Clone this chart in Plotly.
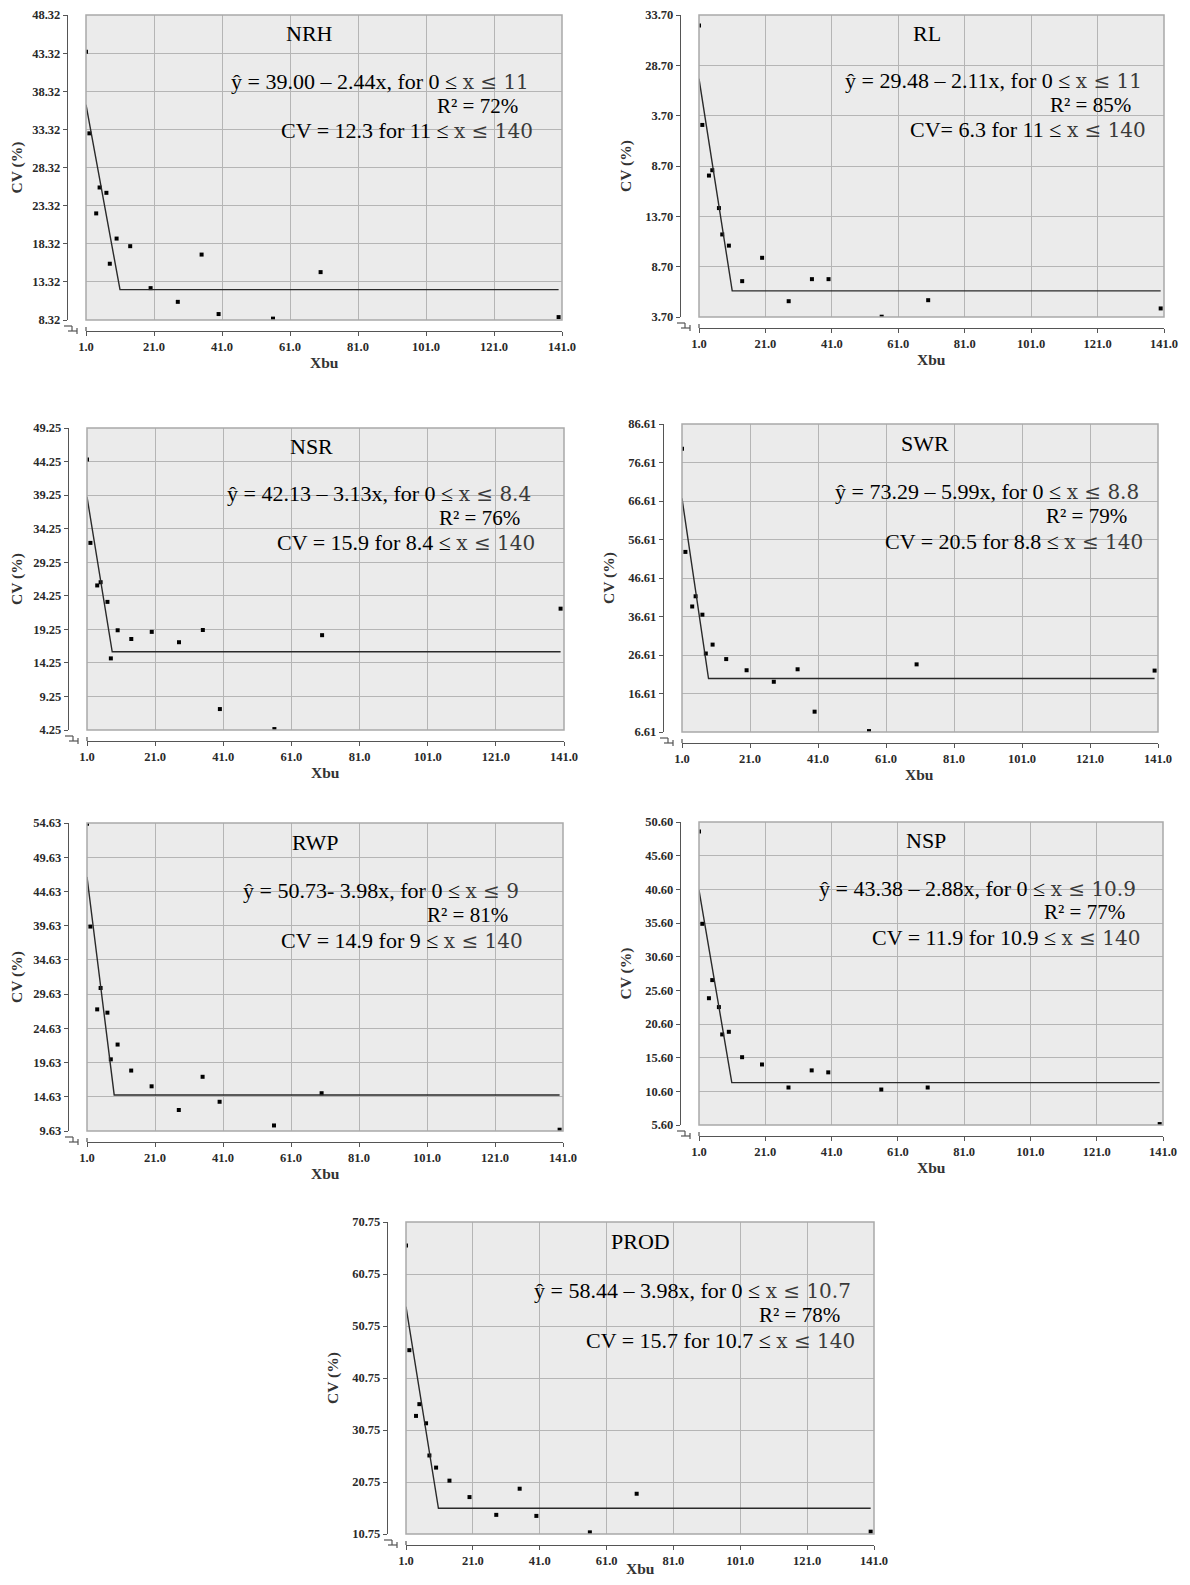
import plotly.graph_objects as go

# ---------------- data ----------------
x_bu = [1, 2, 4, 5, 7, 8, 10, 14, 20, 28, 35, 40, 56, 70, 140]

traits = ["NRH", "RL", "NSR", "SWR", "RWP", "NSP", "PROD"]

cv_nrh = [43.5, 32.8, 22.3, 25.7, 25.0, 15.7, 19.0, 18.0, 12.5, 10.7, 16.9, 9.1, 8.5, 14.6, 8.7]
cv_rl = [32.65, 22.78, 17.75, 18.28, 14.52, 11.90, 10.79, 7.26, 9.58, 5.27, 7.46, 7.46, 3.73, 5.37, 4.55]
cv_nsr = [44.54, 32.13, 25.79, 26.27, 23.34, 14.92, 19.11, 17.81, 18.87, 17.33, 19.15, 7.37, 4.39, 18.38, 22.33]
cv_swr = [80.21, 53.39, 39.21, 41.86, 37.08, 27.00, 29.31, 25.55, 22.65, 19.66, 22.90, 11.89, 6.85, 24.18, 22.56]
cv_rwp = [54.53, 39.50, 27.40, 30.52, 26.92, 20.10, 22.26, 18.46, 16.16, 12.70, 17.55, 13.90, 10.44, 15.15, 9.82]
cv_nsp = [49.18, 35.48, 24.43, 27.12, 23.11, 19.05, 19.44, 15.67, 14.59, 11.17, 13.71, 13.42, 10.87, 11.17, 5.74]
cv_prod = [66.23, 46.10, 33.46, 35.72, 32.04, 25.85, 23.52, 21.01, 17.85, 14.43, 19.46, 14.23, 11.07, 18.49, 11.20]
cv_series = [cv_nrh, cv_rl, cv_nsr, cv_swr, cv_rwp, cv_nsp, cv_prod]

# segmented regression parameters
intercepts = [39.00, 29.48, 42.13, 73.29, 50.73, 43.38, 58.44]
slopes = [2.44, 2.11, 3.13, 5.99, 3.98, 2.88, 3.98]
breakpoints = [11, 11, 8.4, 8.8, 9, 10.9, 10.7]
plateaus = [12.3, 6.3, 15.9, 20.5, 14.9, 11.9, 15.7]
x_end = 140

eq_heads = [
    "ŷ = 39.00 – 2.44x, for 0 ≤ ",
    "ŷ = 29.48 – 2.11x, for 0 ≤ ",
    "ŷ = 42.13 – 3.13x, for 0 ≤ ",
    "ŷ = 73.29 – 5.99x, for 0 ≤ ",
    "ŷ = 50.73- 3.98x, for 0 ≤ ",
    "ŷ = 43.38 – 2.88x, for 0 ≤ ",
    "ŷ = 58.44 – 3.98x, for 0 ≤ ",
]
eq_tails = ["x ≤ 11", "x ≤ 11", "x ≤ 8.4", "x ≤ 8.8", "x ≤ 9", "x ≤ 10.9", "x ≤ 10.7"]
r2_lines = ["R² = 72%", "R² = 85%", "R² = 76%", "R² = 79%", "R² = 81%", "R² = 77%", "R² = 78%"]
cv_heads = [
    "CV = 12.3 for 11 ≤ ",
    "CV= 6.3 for 11 ≤ ",
    "CV = 15.9 for 8.4 ≤ ",
    "CV = 20.5 for 8.8 ≤ ",
    "CV = 14.9 for 9 ≤ ",
    "CV = 11.9 for 10.9 ≤ ",
    "CV = 15.7 for 10.7 ≤ ",
]
cv_tail = "x ≤ 140"

x_title = "Xbu"
y_title = "CV (%)"

x_tickvals = [1, 21, 41, 61, 81, 101, 121, 141]
x_ticktext = ["1.0", "21.0", "41.0", "61.0", "81.0", "101.0", "121.0", "141.0"]

y_tickvals = [
    [8.32, 13.32, 18.32, 23.32, 28.32, 33.32, 38.32, 43.32, 48.32],
    [3.70, 8.70, 13.70, 18.70, 23.70, 28.70, 33.70],
    [4.25, 9.25, 14.25, 19.25, 24.25, 29.25, 34.25, 39.25, 44.25, 49.25],
    [6.61, 16.61, 26.61, 36.61, 46.61, 56.61, 66.61, 76.61, 86.61],
    [9.63, 14.63, 19.63, 24.63, 29.63, 34.63, 39.63, 44.63, 49.63, 54.63],
    [5.60, 10.60, 15.60, 20.60, 25.60, 30.60, 35.60, 40.60, 45.60, 50.60],
    [10.75, 20.75, 30.75, 40.75, 50.75, 60.75, 70.75],
]
y_ticktext = [
    ["8.32", "13.32", "18.32", "23.32", "28.32", "33.32", "38.32", "43.32", "48.32"],
    ["3.70", "8.70", "13.70", "8.70", "3.70", "28.70", "33.70"],
    ["4.25", "9.25", "14.25", "19.25", "24.25", "29.25", "34.25", "39.25", "44.25", "49.25"],
    ["6.61", "16.61", "26.61", "36.61", "46.61", "56.61", "66.61", "76.61", "86.61"],
    ["9.63", "14.63", "19.63", "24.63", "29.63", "34.63", "39.63", "44.63", "49.63", "54.63"],
    ["5.60", "10.60", "15.60", "20.60", "25.60", "30.60", "35.60", "40.60", "45.60", "50.60"],
    ["10.75", "20.75", "30.75", "40.75", "50.75", "60.75", "70.75"],
]

# ---------------- layout (window pixels) ----------------
PAGE_OFF = 8                      # default body margin of the html page
WIN_W, WIN_H = 1190, 1585
W, H = WIN_W - 2 * PAGE_OFF, WIN_H - 2 * PAGE_OFF
# plot-area boxes in window pixels: left, right, top, bottom
boxes = [
    (86, 562, 15, 320),
    (699, 1164, 15, 317),
    (87, 564, 428, 730),
    (682, 1158, 424, 732),
    (87, 563, 823, 1131),
    (699, 1163, 822, 1125),
    (406, 874, 1222, 1534),
]
title_x = [0.47, 0.49, 0.47, 0.51, 0.48, 0.49, 0.50]
eq_right = [0.935, 0.957, 0.935, 0.964, 0.912, 0.946, 0.955]

FONT = "Liberation Serif"
TAILFONT = "DejaVu Serif"
AX_DARK = "#555555"
GRID = "#b5b5b5"

fig = go.Figure()
layout = dict(
    width=W, height=H, margin=dict(l=0, r=0, t=0, b=0, autoexpand=False),
    paper_bgcolor="white", plot_bgcolor="#ebebeb", showlegend=False,
)
shapes = []
annotations = []


def px(x):
    return (x - PAGE_OFF) / W


def py(y):
    return 1 - (y - PAGE_OFF) / H


def tail(s):
    return "<span style=\"font-family:'%s';font-size:20px;color:#3a3a3a\">%s</span>" % (TAILFONT, s)


axis_font = dict(family=FONT, size=12.5, color="#2a2a2a", weight="bold")
title_font = dict(family=FONT, size=15.5, color="#333333", weight="bold")

for i in range(7):
    n = "" if i == 0 else str(i + 1)
    xa, ya = "x" + n, "y" + n
    L, R, T, B = boxes[i]
    ylo, yhi = y_tickvals[i][0], y_tickvals[i][-1]

    fig.add_trace(go.Scatter(
        x=x_bu, y=cv_series[i], mode="markers", xaxis=xa, yaxis=ya,
        marker=dict(symbol="square", size=4, color="black"),
    ))
    a, b, bp, pl = intercepts[i], slopes[i], breakpoints[i], plateaus[i]
    line_x = [x_bu[0], bp, x_end]
    line_y = [a - b * x_bu[0], pl, pl]
    fig.add_trace(go.Scatter(
        x=line_x, y=line_y, mode="lines", xaxis=xa, yaxis=ya,
        line=dict(color="#2a2a2a", width=1.4),
    ))

    layout["xaxis" + n] = dict(
        domain=[px(L), px(R)], anchor="free", position=py(B + 11), automargin=False,
        range=[1, 141], tickvals=x_tickvals, ticktext=x_ticktext,
        showgrid=True, gridcolor=GRID, gridwidth=1, zeroline=False,
        showline=True, linecolor=AX_DARK, linewidth=1.3,
        ticks="outside", ticklen=4, tickcolor=AX_DARK, tickwidth=1.2,
        tickfont=axis_font, ticklabeloverflow="allow",
    )
    layout["yaxis" + n] = dict(
        domain=[py(B), py(T)], anchor="free", position=px(L - 19), automargin=False,
        range=[ylo, yhi], tickvals=y_tickvals[i], ticktext=y_ticktext[i],
        showgrid=True, gridcolor=GRID, gridwidth=1, zeroline=False,
        showline=True, linecolor=AX_DARK, linewidth=1.3,
        ticks="outside", ticklen=4, tickcolor=AX_DARK, tickwidth=1.2,
        tickfont=axis_font, ticklabeloverflow="allow",
        title=dict(text=y_title, font=title_font, standoff=8),
    )

    # x-axis title as text under the tick labels
    ty = min(B + 11 + 31, WIN_H - PAGE_OFF - 9)
    annotations.append(dict(text=x_title, xref="paper", yref="paper",
                            x=(px(L) + px(R)) / 2, y=py(ty), xanchor="center", yanchor="middle",
                            showarrow=False, font=title_font))

    # plot-area border
    shapes.append(dict(type="rect", xref=xa + " domain", yref=ya + " domain",
                       x0=0, x1=1, y0=0, y1=1, line=dict(color="#a9a9a9", width=1.5),
                       fillcolor="rgba(0,0,0,0)", layer="above"))
    # axis-break symbol
    yl = L - 19
    segs = [
        ((yl - 3, B + 6), (yl + 5, B + 6)),
        ((yl + 5, B + 6), (yl + 5, B + 11)),
        ((yl + 1, B + 11), (yl + 10, B + 11)),
        ((yl + 10, B + 8), (yl + 10, B + 14)),
        ((L, B + 7), (L, B + 11)),
    ]
    for (x0, y0), (x1, y1) in segs:
        shapes.append(dict(type="line", xref="paper", yref="paper",
                           x0=px(x0), y0=py(y0), x1=px(x1), y1=py(y1),
                           line=dict(color=AX_DARK, width=1.2)))

    # texts
    annotations.append(dict(text=traits[i], xref=xa + " domain", yref=ya + " domain",
                            x=title_x[i], y=1 - 0.062, xanchor="center", yanchor="middle",
                            showarrow=False, font=dict(family=FONT, size=22, color="black")))
    annotations.append(dict(text=eq_heads[i] + tail(eq_tails[i]), xref=xa + " domain", yref=ya + " domain",
                            x=eq_right[i], y=1 - 0.218, xanchor="right", yanchor="middle",
                            showarrow=False, font=dict(family=FONT, size=22, color="black")))
    annotations.append(dict(text=r2_lines[i], xref=xa + " domain", yref=ya + " domain",
                            x=eq_right[i] - 0.024, y=1 - 0.298, xanchor="right", yanchor="middle",
                            showarrow=False, font=dict(family=FONT, size=21, color="black")))
    annotations.append(dict(text=cv_heads[i] + tail(cv_tail), xref=xa + " domain", yref=ya + " domain",
                            x=eq_right[i] + 0.008, y=1 - 0.38, xanchor="right", yanchor="middle",
                            showarrow=False, font=dict(family=FONT, size=22, color="black")))

layout["shapes"] = shapes
layout["annotations"] = annotations
fig.update_layout(**layout)
fig.write_html("out.html")
